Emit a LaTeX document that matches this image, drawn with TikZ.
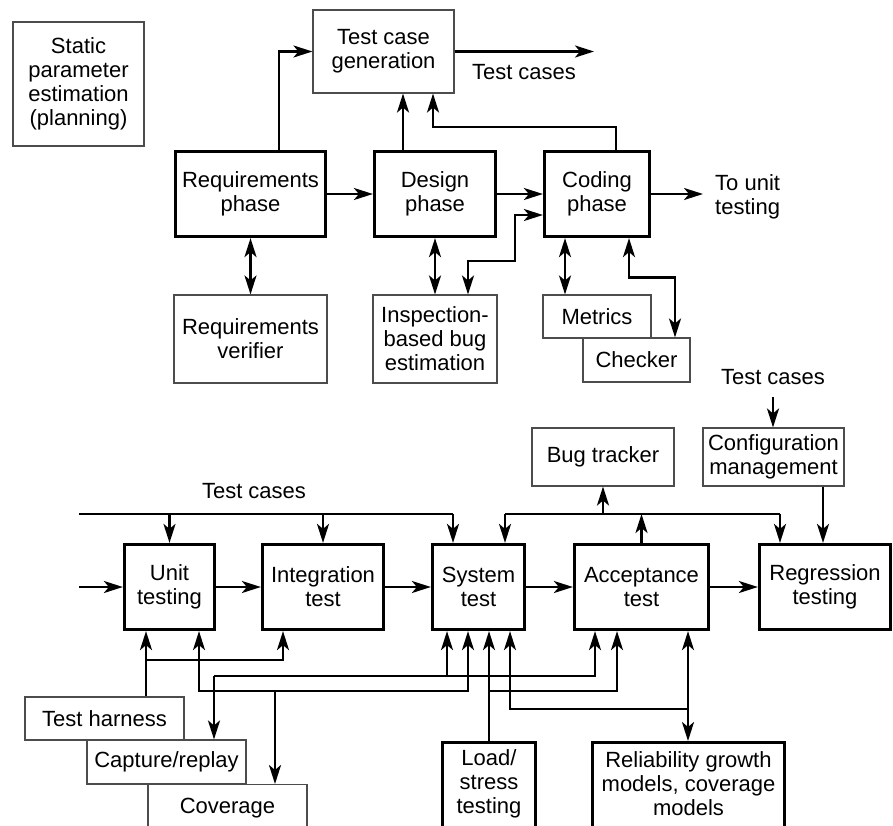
\documentclass[tikz,border=0pt]{standalone}
\usepackage{fontspec}
\setmainfont{Liberation Sans}
\usetikzlibrary{arrows.meta}
\begin{document}
\begin{tikzpicture}[x=1pt,y=-1pt,
  every node/.style={font=\fontsize{22}{24}\selectfont, align=center, inner sep=0pt},
  thinbox/.style={draw=black!70, line width=1.1pt, rectangle},
  thickbox/.style={draw=black, line width=3.2pt, rectangle},
  conn/.style={line width=2.5pt},
  arr/.style={conn, -{Stealth[length=19pt,width=12pt,inset=5pt]}},
  dblarr/.style={conn, {Stealth[length=19pt,width=12pt,inset=5pt]}-{Stealth[length=19pt,width=12pt,inset=5pt]}}
]
\useasboundingbox (0,0) rectangle (893,825);
\clip (0,0) rectangle (893,825);
\fill[white] (0,0) rectangle (893,825);

% ---------- top part ----------
\node[thinbox, minimum width=131, minimum height=124] (stat) at (78.5,84) {Static\\parameter\\estimation\\(planning)};
\node[thinbox, minimum width=141, minimum height=83] (tcg) at (383.5,51.5) {Test case\\generation};
\node[thickbox, minimum width=150, minimum height=85] (req) at (250.5,194) {Requirements\\phase};
\node[thickbox, minimum width=121, minimum height=85] (des) at (435,194) {Design\\phase};
\node[thickbox, minimum width=105, minimum height=85] (cod) at (597,194) {Coding\\phase};
\node[thinbox, minimum width=153, minimum height=88] (ver) at (250.5,339) {Requirements\\verifier};
\node[thinbox, minimum width=124, minimum height=88] (insp) at (435,339) {Inspection-\\based bug\\estimation};
\node[thinbox, minimum width=108, minimum height=43] (met) at (597,316.5) {Metrics};
\node[thinbox, minimum width=107, minimum height=44] (chk) at (636.5,360) {Checker};
\node[anchor=base] (tcl1) at (524,79) {Test cases};
\node[anchor=west, align=left] (tut) at (715,197) {To unit\\testing};

\coordinate (tce) at (594,51.5);
\coordinate (tue) at (703,194);
\coordinate (d1) at ([xshift=-32]des.north);
\coordinate (ik) at (515,261);

\draw[arr] ([xshift=28.5]req.north) |- (tcg.west);
\draw[arr] (d1) -- (d1 |- tcg.south);
\draw[arr] ([xshift=19]cod.north) -- ++(0,-23) -| ([xshift=49.5]tcg.south);
\draw[arr] (tcg.east) -- (tce);
\draw[arr] (req) -- (des);
\draw[arr] (des) -- (cod);
\draw[arr] (cod.east) -- (tue);
\draw[dblarr] ([yshift=-21]cod.west) -| (ik) -| ([xshift=33]insp.north);
\draw[dblarr] (req) -- (ver);
\draw[dblarr] (des) -- (insp);
\draw[dblarr] ([xshift=-32]cod.south) -- ([xshift=-32]met.north);
\draw[dblarr] ([xshift=32]cod.south) -- ++(0,39.5) -| ([xshift=38.5]chk.north);

% ---------- bottom part ----------
\node[anchor=base] (tcl2) at (773,384) {Test cases};
\node[thinbox, minimum width=141, minimum height=58] (cfg) at (773.5,457) {Configuration\\management};
\node[thinbox, minimum width=142, minimum height=58] (bug) at (603,457) {Bug tracker};
\node[anchor=base] (tcl3) at (254,498) {Test cases};
\node[thickbox, minimum width=90, minimum height=85] (unit) at (169.5,587) {Unit\\testing};
\node[thickbox, minimum width=121, minimum height=85] (int) at (323,587) {Integration\\test};
\node[thickbox, minimum width=92, minimum height=85] (sys) at (478.5,587) {System\\test};
\node[thickbox, minimum width=134, minimum height=85] (acc) at (641.5,587) {Acceptance\\test};
\node[thickbox, minimum width=131, minimum height=85] (reg) at (825,587) {Regression\\testing};

\node[thinbox, minimum width=159, minimum height=43] (har) at (104.5,718.5) {Test harness};
\node[thinbox, minimum width=159, minimum height=44] (cap) at (166.5,762) {Capture/replay};
\node[thinbox, minimum width=159, minimum height=70, anchor=north] (cov) at (227.5,784) {};
\node[anchor=base] (covt) at (227.5,813) {Coverage};
\node[thickbox, minimum width=93, minimum height=120, anchor=north] (load) at (489,741) {};
\node (loadt) at (489,784) {Load/\\stress\\testing};
\node[thickbox, minimum width=192, minimum height=120, anchor=north] (rel) at (688.5,741) {};
\node (relt) at (688.5,784) {Reliability growth\\models, coverage\\models};

% configuration / test cases
\coordinate (tc2) at (773,397);
\coordinate (cr) at ([xshift=49.5]cfg.south);
\draw[arr] (tc2) -- (tc2 |- cfg.north);
\draw[arr] (cr) -- (cr |- reg.north);

% bug tracker bus
\coordinate (bl) at (505,514);
\coordinate (br) at (780,514);
\draw[conn] (bl) -- (br);
\draw[arr] (bl) -- (bl |- sys.north);
\draw[arr] (br) -- (br |- reg.north);
\draw[arr] (bug.south |- bl) -- (bug.south);
\draw[arr] (acc.north) -- (acc.north |- bl);

% test cases bus
\coordinate (tl) at (79,514);
\coordinate (tr) at (453,514);
\draw[conn] (tl) -- (tr);
\draw[arr] (tr) -- (tr |- sys.north);
\draw[arr] (unit.north |- tl) -- (unit.north);
\draw[arr] (int.north |- tl) -- (int.north);

% main chain
\coordinate (in) at (79,587);
\draw[arr] (in) -- (unit);
\draw[arr] (unit) -- (int);
\draw[arr] (int) -- (sys);
\draw[arr] (sys) -- (acc);
\draw[arr] (acc) -- (reg);

% test harness
\coordinate (h1) at ([xshift=41.5]har.north);
\coordinate (hj) at (146,660);
\draw[arr] (h1) -- (h1 |- unit.south);
\draw[arr] (hj) -| ([xshift=-40]int.south);

% capture/replay bus
\coordinate (pj) at (214,676);
\coordinate (ps) at ([xshift=-31.5]sys.south);
\draw[arr] (pj) -- (pj |- cap.north);
\draw[arr] (pj) -| ([xshift=-46.5]acc.south);
\draw[arr] (ps |- pj) -- (ps);

% coverage bus
\coordinate (cj) at (275,691);
\draw[arr] (cj) -- (cj |- cov.north);
\draw[arr] (cj) -| ([xshift=29.5]unit.south);
\draw[arr] (cj) -| ([xshift=-10.5]sys.south);

% load/stress
\coordinate (lj) at (489,691);
\draw[arr] (load.north) -- (load.north |- sys.south);
\draw[arr] (lj) -| ([xshift=-24.5]acc.south);

% reliability
\coordinate (rj) at (688,709);
\draw[dblarr] ([xshift=46.5]acc.south) -- ([xshift=46.5]acc.south |- rel.north);
\draw[arr] (rj) -| ([xshift=31.5]sys.south);
\end{tikzpicture}
\end{document}
